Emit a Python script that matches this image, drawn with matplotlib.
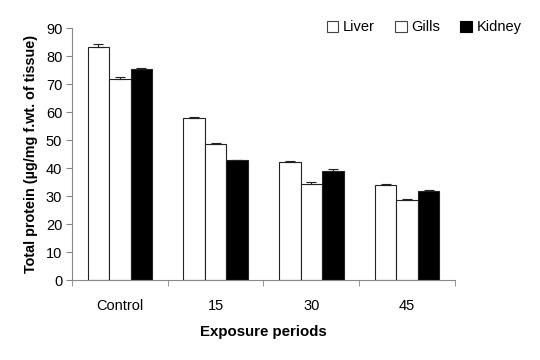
import matplotlib
matplotlib.use('Agg')
import matplotlib.pyplot as plt
import numpy as np
from matplotlib.patches import Patch

plt.rcParams['font.family'] = ['Liberation Sans', 'DejaVu Sans']

periods = ['Control', '15', '30', '45']
liver = [83.2, 57.9, 42.0, 33.8]
gills = [71.7, 48.5, 34.2, 28.6]
kidney = [75.4, 42.8, 39.0, 31.7]
liver_err = [1.1, 0.2, 0.6, 0.4]
gills_err = [0.7, 0.3, 0.8, 0.3]
kidney_err = [0.3, 0.2, 0.5, 0.4]

fig = plt.figure(figsize=(5.4, 3.6), dpi=100)
ax = fig.add_axes([0.1333, 0.2222, 0.7093, 0.7])

x = np.arange(len(periods))
w = 0.225
series = [
    (liver, liver_err, 'white', -w),
    (gills, gills_err, 'white', 0),
    (kidney, kidney_err, 'black', w),
]
for vals, err, col, off in series:
    yerr = [np.zeros(len(err)), err]
    ax.bar(x + off, vals, w, color=col, edgecolor='#222222', linewidth=0.8,
           yerr=yerr, capsize=3.5,
           error_kw=dict(ecolor='#222222', elinewidth=0.8, capthick=0.8))

ax.set_xlim(-0.5, 3.5)
ax.set_ylim(0, 90)
ax.set_yticks(np.arange(0, 91, 10))
ax.set_xticks(x)
ax.set_xticklabels(periods)
ax.set_xticks(np.arange(-0.5, 3.6, 1), minor=True)
ax.tick_params(axis='x', which='major', length=0, pad=14, labelsize=10.5)
ax.tick_params(axis='x', which='minor', length=4, color='#888888', direction='out')
ax.tick_params(axis='y', length=4, color='#888888', labelsize=10.5, pad=3)

for s in ['top', 'right']:
    ax.spines[s].set_visible(False)
for s in ['left', 'bottom']:
    ax.spines[s].set_color('#888888')
    ax.spines[s].set_linewidth(0.8)

ax.set_xlabel('Exposure periods', fontsize=10.8, fontweight='bold', labelpad=8)
ax.set_ylabel('Total protein (\u00b5g/mg f.wt. of tissue)', fontsize=10.4,
              fontweight='bold', labelpad=6)

handles = [
    Patch(facecolor='white', edgecolor='#444444', linewidth=0.8, label='Liver'),
    Patch(facecolor='white', edgecolor='#444444', linewidth=0.8, label='Gills'),
    Patch(facecolor='black', edgecolor='black', linewidth=0.8, label='Kidney'),
]
fig.legend(handles=handles, loc='upper right', bbox_to_anchor=(0.99, 0.98),
           ncol=3, frameon=False, fontsize=10.5, handlelength=0.8,
           handleheight=0.8, handletextpad=0.3, columnspacing=1.4)

fig.savefig('out.png', dpi=100)
